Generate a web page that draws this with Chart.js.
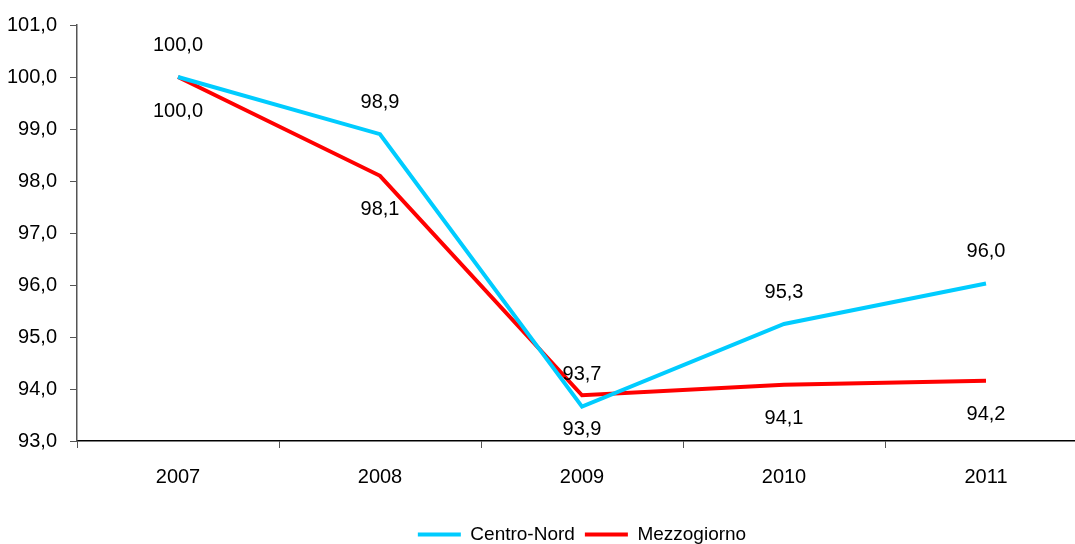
<!DOCTYPE html>
<html>
<head>
<meta charset="utf-8">
<script src="https://cdn.jsdelivr.net/npm/chart.js@4"></script>
<style>
  body { margin: 0; overflow: hidden; background: #fff; }
  #wrap { position: relative; width: 1164px; height: 554px; }
</style>
</head>
<body>
<div id="wrap"><canvas id="chart"></canvas></div>
<script>
// values
const years = ["2007", "2008", "2009", "2010", "2011"];
const centroNord = [100.0, 98.9, 93.66, 95.25, 96.03];
const mezzogiorno = [100.0, 98.1, 93.88, 94.08, 94.16];
const yTicks = [93, 94, 95, 96, 97, 98, 99, 100, 101];

const FONT = "'Liberation Sans', Arial, sans-serif";

function fmt(v) {
  return v.toFixed(1).replace(".", ",");
}

// ---------- VALUE LABELS (cyan above, red below) ----------
const valueLabels = {
  id: "valueLabels",
  afterDatasetsDraw(chart) {
    const ctx = chart.ctx;
    ctx.save();
    ctx.font = "20px " + FONT;
    ctx.fillStyle = "#000";
    ctx.textAlign = "center";
    ctx.textBaseline = "middle";
    chart.data.datasets.forEach((ds, i) => {
      const meta = chart.getDatasetMeta(i);
      const offset = i === 0 ? -32 : 34;
      meta.data.forEach((pt, j) => {
        ctx.fillText(fmt(ds.data[j]), pt.x, pt.y + offset);
      });
    });
    ctx.restore();
  }
};

new Chart(document.getElementById("chart"), {
  type: "line",
  data: {
    labels: years,
    datasets: [
      {
        label: "Centro-Nord",
        data: centroNord,
        borderColor: "#00CCFF",
        backgroundColor: "#00CCFF",
        borderWidth: 4,
        pointRadius: 0,
        tension: 0,
      },
      {
        label: "Mezzogiorno",
        data: mezzogiorno,
        borderColor: "#FF0000",
        backgroundColor: "#FF0000",
        borderWidth: 4,
        pointRadius: 0,
        tension: 0,
      },
    ],
  },
  options: {
    responsive: true,
    maintainAspectRatio: false,
    animation: false,
    layout: { padding: { top: 25, left: 0, right: 0, bottom: 0 } },
    plugins: {
      legend: {
        position: "bottom",
        labels: {
          color: "#000",
          font: { family: FONT, size: 19 },
          boxWidth: 43,
          boxHeight: 4,
          padding: 10,
          generateLabels(chart) {
            return Chart.defaults.plugins.legend.labels.generateLabels(chart)
              .map(l => Object.assign(l, { lineWidth: 0 }));
          },
        },
      },
      tooltip: { enabled: false },
    },
    scales: {
      x: {
        offset: true,
        grid: {
          offset: true,
          drawOnChartArea: false,
          drawTicks: true,
          tickLength: 7,
          color: "#555",
        },
        border: { color: "#000", width: 1.5 },
        ticks: { color: "#000", font: { family: FONT, size: 20 }, padding: 17 },
        afterFit(scale) { scale.height = 74; },
      },
      y: {
        min: 93,
        max: 101,
        afterBuildTicks(scale) {
          scale.ticks = yTicks.map(v => ({ value: v }));
        },
        grid: {
          drawOnChartArea: false,
          drawTicks: true,
          tickLength: 7,
          color: "#555",
        },
        border: { color: "#555", width: 1.5 },
        ticks: {
          color: "#000",
          font: { family: FONT, size: 20 },
          padding: 13,
          callback: v => fmt(v),
        },
        afterFit(scale) { scale.width = 77; },
      },
      // empty right axis, only keeps the right margin so the legend centres on the plot
      yRight: {
        position: "right",
        min: 93,
        max: 101,
        grid: { display: false },
        border: { display: false },
        ticks: { display: false },
        afterFit(scale) { scale.width = 77; },
      },
    },
  },
  plugins: [valueLabels],
});
</script>
</body>
</html>
